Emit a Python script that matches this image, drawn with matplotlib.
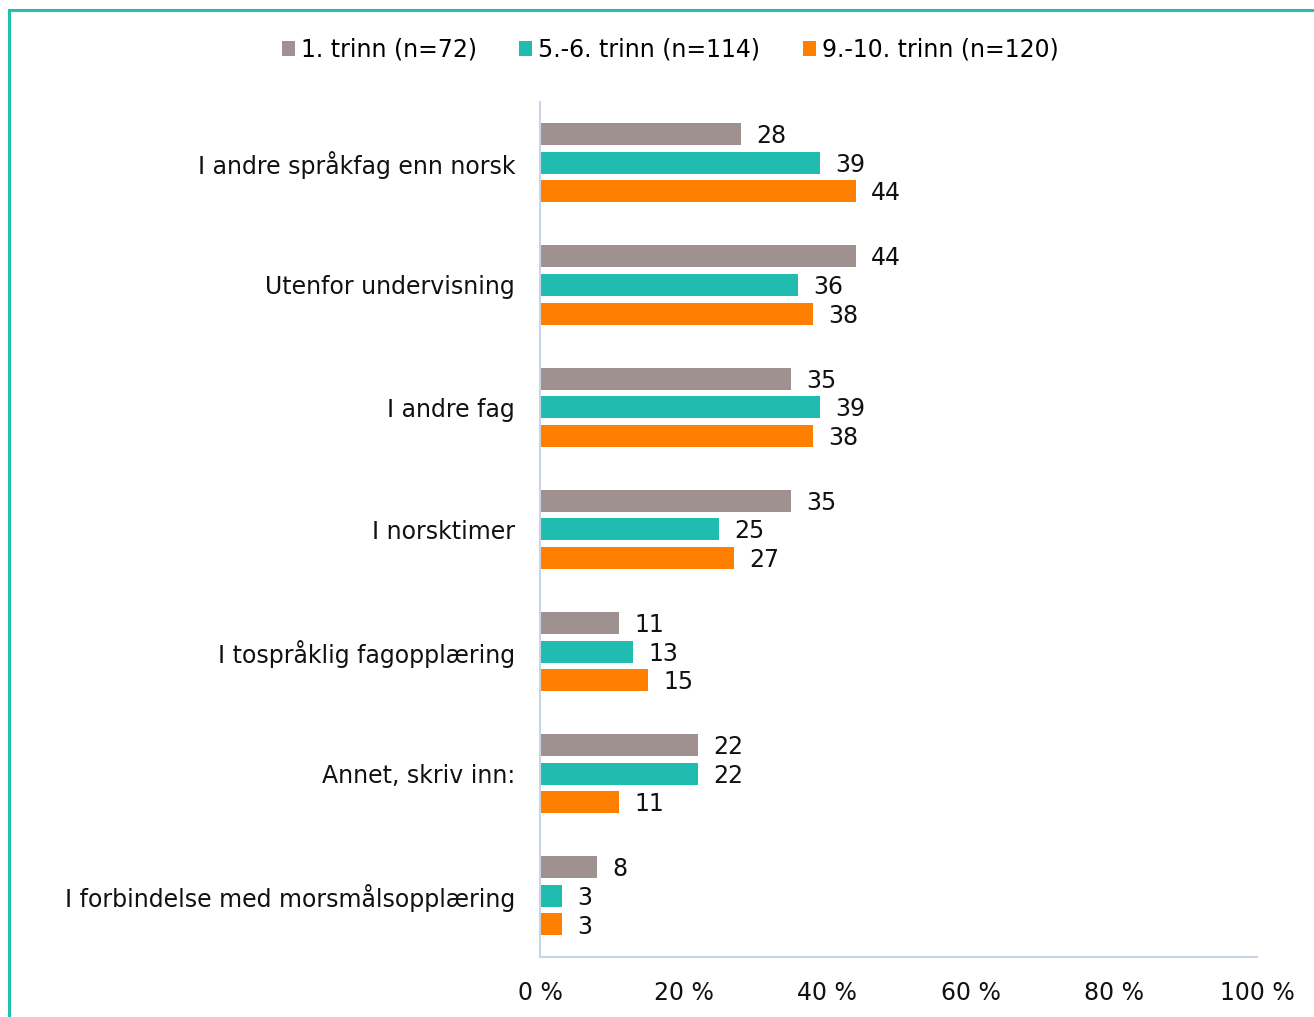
import matplotlib.pyplot as plt
import numpy as np
from matplotlib.patches import Rectangle

plt.rcParams['font.family'] = ['DejaVu Sans']

# data (top to bottom as in the chart)
categories = ['I andre språkfag enn norsk', 'Utenfor undervisning', 'I andre fag',
              'I norsktimer', 'I tospråklig fagopplæring', 'Annet, skriv inn:',
              'I forbindelse med morsmålsopplæring']
series_names = ['1. trinn (n=72)', '5.-6. trinn (n=114)', '9.-10. trinn (n=120)']
trinn1 = [28, 44, 35, 35, 11, 22, 8]
trinn56 = [39, 36, 39, 25, 13, 22, 3]
trinn910 = [44, 38, 38, 27, 15, 11, 3]
colors = ['#9E9190', '#20BCB0', '#FF7F00']
fs = 17

fig = plt.figure(figsize=(13.14, 10.17), dpi=100)
ax = fig.add_axes([0.411, 0.059, 0.546, 0.841])

n = len(categories)
y = np.arange(n)[::-1]
off = 0.234
h = 0.18
for k, (vals, c, name) in enumerate(zip([trinn1, trinn56, trinn910], colors, series_names)):
    yy = y + off * (1 - k)
    ax.barh(yy, vals, height=h, color=c, label=name)
    for yi, v in zip(yy, vals):
        ax.annotate(str(v), (v, yi), xytext=(11, -1.5), textcoords='offset points',
                    va='center', ha='left', fontsize=fs, color='#111111')

ax.set_xlim(0, 100)
ax.set_ylim(-0.5, n - 0.5)
ax.set_yticks(y)
ax.set_yticklabels(categories, fontsize=fs, color='#111111')
ax.set_xticks([0, 20, 40, 60, 80, 100])
ax.set_xticklabels(['0 %', '20 %', '40 %', '60 %', '80 %', '100 %'], fontsize=fs,
                   color='#111111')
ax.tick_params(axis='both', length=0)
ax.tick_params(axis='y', pad=18)
ax.tick_params(axis='x', pad=17.5)
for s in ['top', 'right']:
    ax.spines[s].set_visible(False)
for s in ['left', 'bottom']:
    ax.spines[s].set_color('#C9D5E4')
    ax.spines[s].set_linewidth(1.5)

fig.legend(loc='center', bbox_to_anchor=(0.51, 0.951), ncol=3, frameon=False,
           fontsize=fs, handlelength=0.55, handleheight=0.55, handletextpad=0.25,
           columnspacing=1.8)

# teal frame around the chart area
fig.patches.append(Rectangle((0.0068, -0.1), 1.2, 1.09, transform=fig.transFigure,
                             fill=False, edgecolor='#20BFB0', linewidth=2.2))

fig.savefig('out.png', dpi=100)
